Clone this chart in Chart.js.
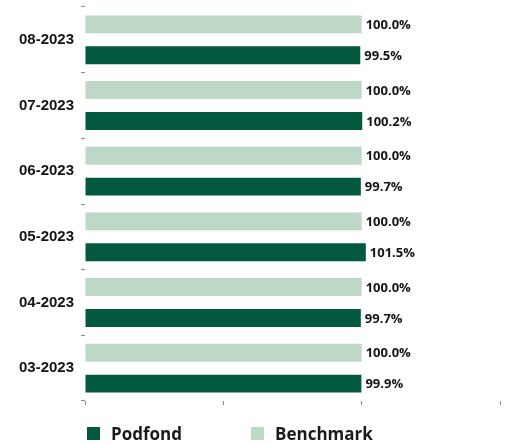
<!DOCTYPE html>
<html>
<head>
<meta charset="utf-8">
<script src="https://cdn.jsdelivr.net/npm/chart.js@4"></script>
<style>
    html, body { margin: 0; padding: 0; background: #fff; }
    #wrap { position: relative; width: 507px; height: 445px; }
    #legend { position: absolute; left: 0; top: 0; width: 507px; height: 445px; pointer-events: none; }
    .legend-item { position: absolute; top: 427px; height: 13px; display: flex; align-items: center;
        font-family: "Open Sans", sans-serif; font-weight: 700; font-size: 17px; color: #1a1a1a; white-space: nowrap; }
    .legend-box { width: 13px; height: 13px; margin-right: 11px; flex: none; }
</style>
</head>
<body>
<div id="wrap">
    <canvas id="chart" width="507" height="445"></canvas>
    <div id="legend"></div>
</div>
<script>
const months = ['08-2023', '07-2023', '06-2023', '05-2023', '04-2023', '03-2023'];
const podfond = [99.5, 100.2, 99.7, 101.5, 99.7, 99.9];
const benchmark = [100.0, 100.0, 100.0, 100.0, 100.0, 100.0];
const xTicks = [0, 50, 100, 150];

const darkGreen = 'rgb(3, 89, 63)';
const lightGreen = 'rgb(190, 216, 199)';

// podpisi vrednosti desno od stolpcev
const valueLabels = {
    id: 'valueLabels',
    afterDatasetsDraw(chart) {
        const ctx = chart.ctx;
        ctx.save();
        ctx.font = '700 13px "Open Sans", sans-serif';
        ctx.fillStyle = '#141414';
        ctx.textAlign = 'left';
        ctx.textBaseline = 'middle';
        chart.data.datasets.forEach((ds, i) => {
            chart.getDatasetMeta(i).data.forEach((bar, j) => {
                ctx.fillText(ds.data[j].toFixed(1) + '%', bar.x + 4, bar.y + 1);
            });
        });
        ctx.restore();
    }
};

const chartCanva = document.getElementById('chart');
const chart = new Chart(chartCanva, {
    type: 'bar',
    data: {
        labels: months,
        datasets: [
            { label: 'Benchmark', data: benchmark, backgroundColor: lightGreen,
              barPercentage: 0.58, categoryPercentage: 0.94 },
            { label: 'Podfond', data: podfond, backgroundColor: darkGreen,
              barPercentage: 0.58, categoryPercentage: 0.94 }
        ]
    },
    options: {
        indexAxis: 'y',
        responsive: false,
        animation: false,
        layout: { padding: { top: 7, right: 7, bottom: 34, left: 0 } },
        plugins: {
            legend: { display: false },
            tooltip: { enabled: false }
        },
        scales: {
            x: {
                min: 0,
                max: 150,
                afterBuildTicks: (scale) => { scale.ticks = xTicks.map(v => ({ value: v })); },
                ticks: { display: false },
                grid: { drawOnChartArea: false, drawTicks: true, tickLength: 4, color: '#8a8a8a' },
                border: { display: false },
                afterFit: (scale) => { scale.height = 10; scale.paddingLeft = 0; scale.paddingRight = 0; }
            },
            y: {
                ticks: {
                    color: '#141414',
                    padding: 7,
                    font: { family: '"Liberation Sans", Arial, sans-serif', weight: 'bold', size: 15 }
                },
                grid: { drawOnChartArea: false, drawTicks: true, tickLength: 4, offset: true, color: '#8a8a8a' },
                border: { display: false },
                afterFit: (scale) => { scale.width = 85; scale.paddingTop = 0; scale.paddingBottom = 0; }
            }
        }
    },
    plugins: [valueLabels]
});

// legenda: Podfond prvi, potem Benchmark
const legendEl = document.getElementById('legend');
const legendLeft = [87, 251];
chart.data.datasets.slice().reverse().forEach((ds, i) => {
    const item = document.createElement('div');
    item.className = 'legend-item';
    item.style.left = legendLeft[i] + 'px';
    item.innerHTML = `<span class="legend-box" style="background:${ds.backgroundColor}"></span><span>${ds.label}</span>`;
    legendEl.appendChild(item);
});
</script>
</body>
</html>
